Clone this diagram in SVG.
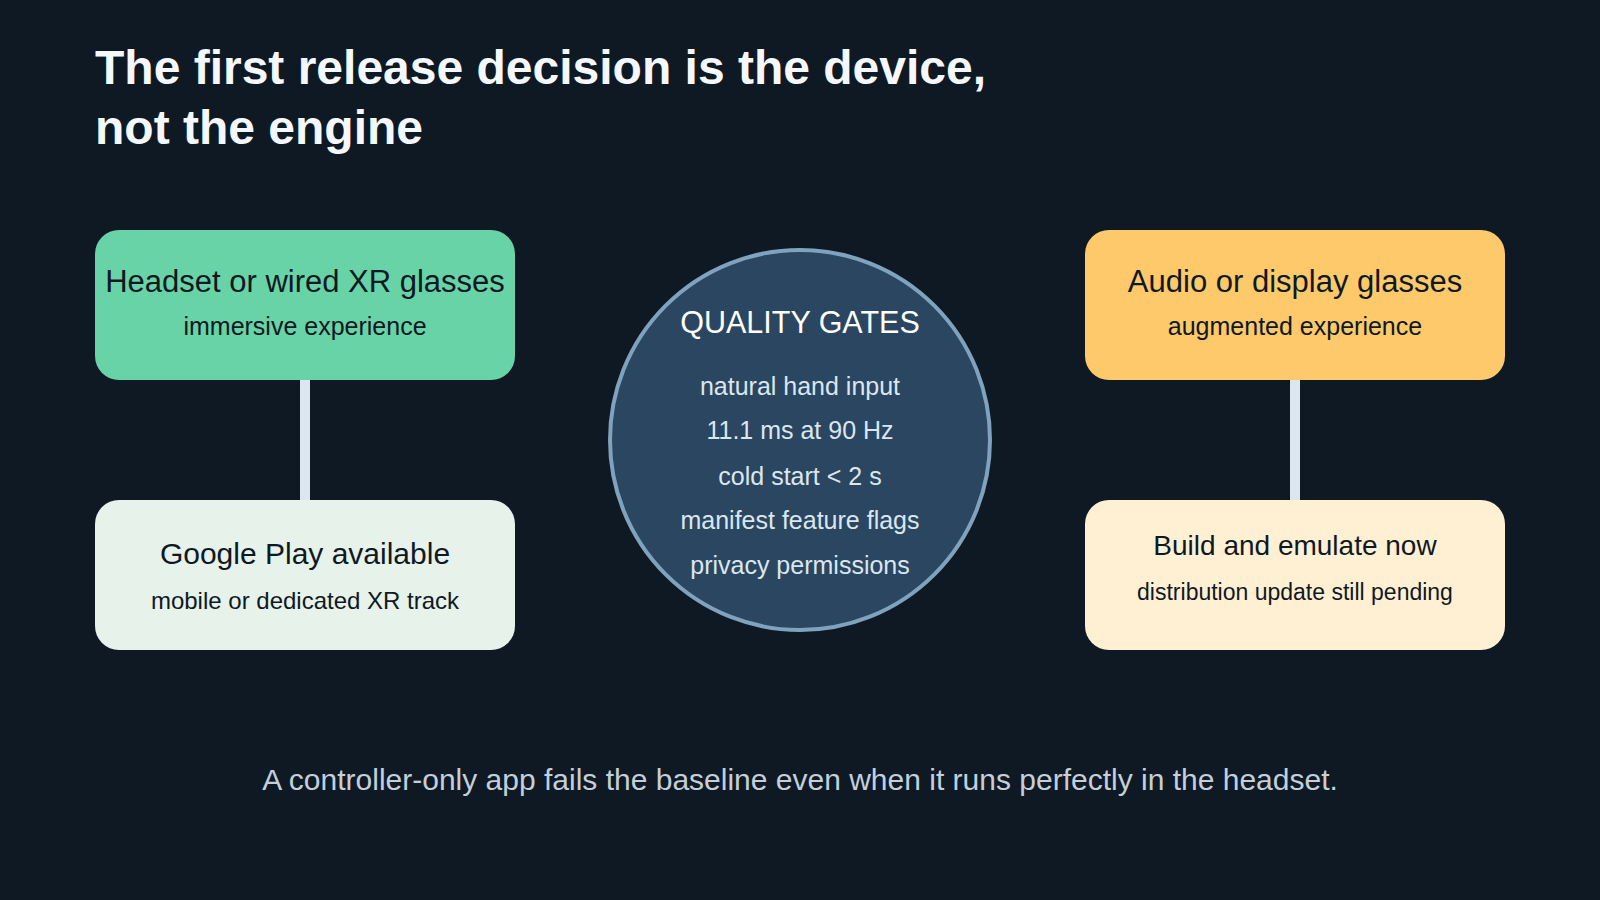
<svg xmlns="http://www.w3.org/2000/svg" width="1600" height="900" viewBox="0 0 1600 900">
<style>
  text { font-family: "Liberation Sans", Arial, Helvetica, sans-serif; }
  .title { font-size: 48px; font-weight: bold; fill: #f4f7fb; }
  .box { stroke: none; }
  .nt { font-size: 30px; fill: #0f1923; text-anchor: middle; }
  .ns { font-size: 24px; fill: #0f1923; text-anchor: middle; }
  .top .nt { font-size: 31px; }
  .top .ns { font-size: 25px; }
  .conn { stroke: #dbe6ef; stroke-width: 10; fill: none; }
  .gate-h { font-size: 30.5px; fill: #ffffff; text-anchor: middle; }
  .gate { font-size: 25px; fill: #dbe6ef; text-anchor: middle; }
  .foot { font-size: 30px; fill: #c3cfdb; text-anchor: middle; }
</style>
<rect width="1600" height="900" fill="#0f1923"/>
<g id="title">
  <text class="title" x="95" y="84">The first release decision is the device,</text>
  <text class="title" x="95" y="144">not the engine</text>
</g>
<g id="connectors">
  <line class="conn" x1="305" y1="380" x2="305" y2="500"/>
  <line class="conn" x1="1295" y1="380" x2="1295" y2="500"/>
</g>
<g id="headset" class="top">
  <rect class="box" x="95" y="230" width="420" height="150" rx="24" fill="#68d3a6"/>
  <text class="nt" x="305" y="292">Headset or wired XR glasses</text>
  <text class="ns" x="305" y="335">immersive experience</text>
</g>
<g id="google-play">
  <rect class="box" x="95" y="500" width="420" height="150" rx="24" fill="#e6f2ea"/>
  <text class="nt" x="305" y="564">Google Play available</text>
  <text class="ns" x="305" y="609">mobile or dedicated XR track</text>
</g>
<g id="quality-gates">
  <circle cx="800" cy="440" r="190" fill="#2a4660" stroke="#7fa2bf" stroke-width="4"/>
  <text class="gate-h" x="800" y="333">QUALITY GATES</text>
  <text class="gate" x="800" y="395">natural hand input</text>
  <text class="gate" x="800" y="439">11.1 ms at 90 Hz</text>
  <text class="gate" x="800" y="485">cold start &lt; 2 s</text>
  <text class="gate" x="800" y="529">manifest feature flags</text>
  <text class="gate" x="800" y="574">privacy permissions</text>
</g>
<g id="audio-glasses" class="top">
  <rect class="box" x="1085" y="230" width="420" height="150" rx="24" fill="#fec96a"/>
  <text class="nt" x="1295" y="292">Audio or display glasses</text>
  <text class="ns" x="1295" y="335">augmented experience</text>
</g>
<g id="build-emulate">
  <rect class="box" x="1085" y="500" width="420" height="150" rx="24" fill="#fff0d4"/>
  <text class="nt" x="1295" y="555" style="font-size:28px">Build and emulate now</text>
  <text class="ns" x="1295" y="600" style="font-size:23px">distribution update still pending</text>
</g>
<g id="footer">
  <text class="foot" x="800" y="790">A controller-only app fails the baseline even when it runs perfectly in the headset.</text>
</g>
</svg>
